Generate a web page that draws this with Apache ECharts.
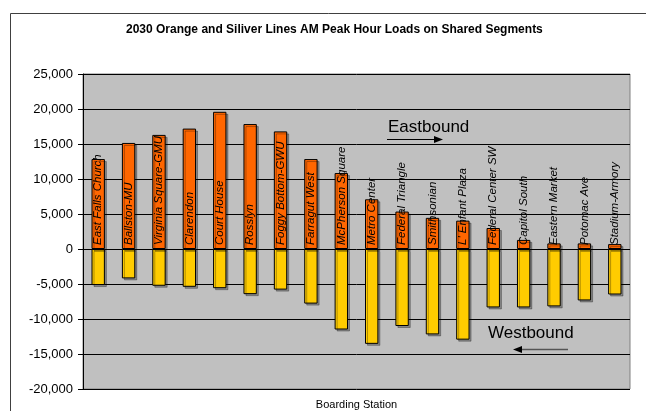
<!DOCTYPE html>
<html>
<head>
<meta charset="utf-8">
<script src="https://cdn.jsdelivr.net/npm/echarts@6/dist/echarts.min.js"></script>
<style>
  html, body { margin: 0; padding: 0; background: #ffffff; }
  #chart { width: 646px; height: 411px; }
</style>
</head>
<body>
<div id="chart"></div>
<script>
// Boarding stations on the shared Orange / Silver segment
const stations = [
  'East Falls Church', 'Ballston-MU', 'Virginia Square-GMU', 'Clarendon',
  'Court House', 'Rosslyn', 'Foggy Bottom-GWU', 'Farragut West',
  'McPherson Square', 'Metro Center', 'Federal Triangle', 'Smithsonian',
  "L' Enfant Plaza", 'Federal Center SW', 'Capitol South', 'Eastern Market',
  'Potomac Ave', 'Stadium-Armory'
];

// AM peak hour loads, eastbound (positive) and westbound (negative)
const eastbound = [
  12850, 15150, 16300, 17200, 19600, 17850, 16800, 12850, 10850,
  7100, 5350, 4450, 4050, 3000, 1300, 800, 800, 700
];
const westbound = [
  -5150, -4200, -5250, -5400, -5600, -6450, -5800, -7800, -11500,
  -13550, -11000, -12200, -12950, -8350, -8350, -8200, -7350, -6500
];

const yTicks = { min: -20000, max: 25000, step: 5000 };

const FONT = '"Liberation Sans", Arial, sans-serif';
const fmt = v => (v < 0 ? '-' : '') + Math.abs(v).toLocaleString('en-US');

const chart = echarts.init(document.getElementById('chart'), null, { renderer: 'canvas' });

const barShadow = {
  shadowColor: 'rgba(0,0,0,0.3)',
  shadowOffsetX: 2,
  shadowOffsetY: 2,
  shadowBlur: 0
};

chart.setOption({
  animation: false,
  backgroundColor: '#ffffff',
  title: {
    text: '2030 Orange and Siliver Lines AM Peak Hour Loads on Shared Segments',
    left: 121,
    top: 19,
    textStyle: { fontFamily: FONT, fontSize: 12, fontWeight: 'bold', color: '#000' }
  },
  grid: {
    left: 83, right: 16, top: 74, bottom: 22,
    containLabel: false, outerBoundsMode: 'none',
    show: true, backgroundColor: '#c0c0c0', borderColor: '#808080', borderWidth: 1
  },
  xAxis: {
    type: 'category',
    data: stations,
    name: 'Boarding Station',
    nameLocation: 'middle',
    nameGap: 10,
    nameTextStyle: { fontFamily: FONT, fontSize: 11, color: '#000' },
    axisLine: { show: false },
    axisTick: { show: false },
    axisLabel: { show: false },
    splitLine: { show: false }
  },
  yAxis: {
    type: 'value',
    min: yTicks.min,
    max: yTicks.max,
    interval: yTicks.step,
    axisLine: { show: true, onZero: false, lineStyle: { color: '#000', width: 1 } },
    axisTick: { show: true, length: 5, lineStyle: { color: '#000' } },
    axisLabel: { fontFamily: FONT, fontSize: 13, color: '#000', margin: 10, formatter: fmt },
    splitLine: { show: true, lineStyle: { color: '#000', width: 1 } }
  },
  series: [
    {
      name: 'Eastbound',
      type: 'bar',
      stack: 'load',
      data: eastbound,
      barWidth: '44%',
      itemStyle: Object.assign({ color: '#ff6600', borderColor: '#000', borderWidth: 1 }, barShadow),
      label: {
        show: true,
        position: 'insideBottom',
        distance: 4,
        rotate: 90,
        align: 'left',
        verticalAlign: 'middle',
        formatter: p => stations[p.dataIndex],
        fontFamily: FONT,
        fontSize: 11.5,
        fontStyle: 'italic',
        color: '#000'
      },
      z: 3
    },
    {
      name: 'Westbound',
      type: 'bar',
      stack: 'load',
      data: westbound,
      barWidth: '44%',
      itemStyle: Object.assign({ color: '#ffcc00', borderColor: '#000', borderWidth: 1 }, barShadow),
      z: 2
    }
  ],
  graphic: [
    // chart area border
    { type: 'rect', shape: { x: 10.5, y: 13.5, width: 700, height: 500 }, style: { fill: null, stroke: '#404040', lineWidth: 1 }, silent: true, z: 100 },
    // direction annotations
    { type: 'text', left: 388, top: 119, style: { text: 'Eastbound', font: '17px ' + FONT, fill: '#000' }, z: 100 },
    { type: 'line', shape: { x1: 387, y1: 139.5, x2: 436, y2: 139.5 }, style: { stroke: '#000', lineWidth: 1 }, z: 100 },
    { type: 'polygon', shape: { points: [[443, 139.5], [434, 136], [434, 143]] }, style: { fill: '#000' }, z: 100 },
    { type: 'text', left: 488, top: 325, style: { text: 'Westbound', font: '17px ' + FONT, fill: '#000' }, z: 100 },
    { type: 'line', shape: { x1: 520, y1: 349.5, x2: 568, y2: 349.5 }, style: { stroke: '#555', lineWidth: 1.5 }, z: 100 },
    { type: 'polygon', shape: { points: [[513, 349.5], [522, 346], [522, 353]] }, style: { fill: '#000' }, z: 100 }
  ]
});
</script>
</body>
</html>
